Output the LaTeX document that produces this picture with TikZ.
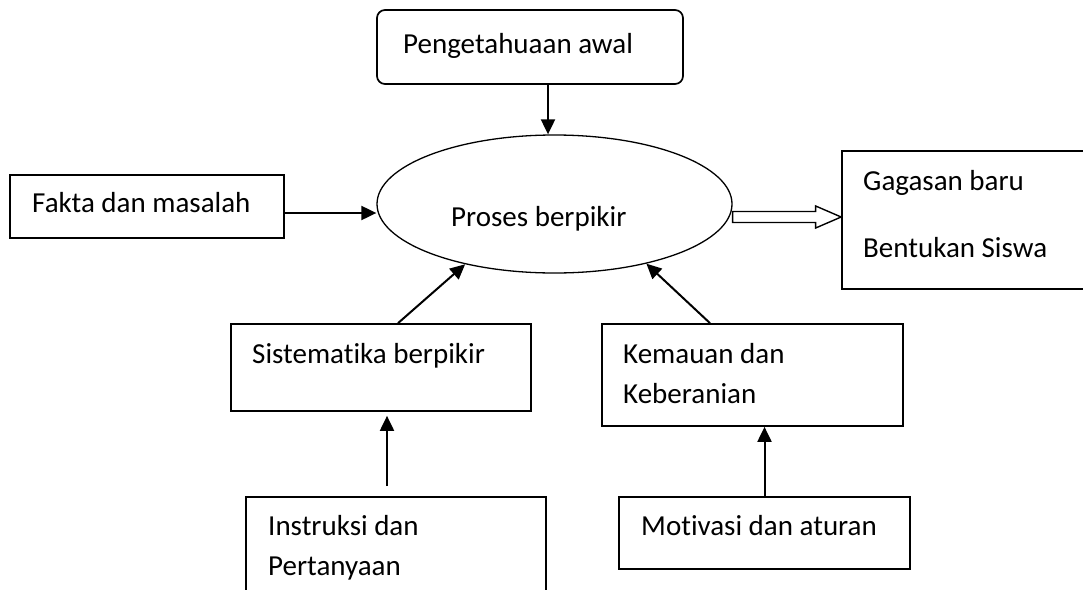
\documentclass[tikz,border=0pt]{standalone}
\usepackage{fontspec}
\setmainfont{Carlito}[Ligatures=NoCommon]
\usetikzlibrary{arrows.meta,positioning,calc,shapes.geometric}

\begin{document}
\begin{tikzpicture}[x=1pt, y=-1pt, >={Triangle[length=15pt,width=14pt]},
    box/.style={draw, line width=1.7pt, inner sep=0pt},
    txt/.style={anchor=base west, inner sep=0pt, align=left, font=\fontsize{29}{40}\selectfont},
    arr/.style={->, line width=2pt}]
  \useasboundingbox (0,0) rectangle (1083,589);

  % Centre
  \node[box, ellipse, line width=1.3pt, minimum width=355pt, minimum height=138pt] (proc) at (554.5,204) {};
  \node[txt] (proclbl) at (451,226) {Proses berpikir};

  % Boxes round it
  \node[box, rounded corners=8pt, minimum width=306pt, minimum height=74pt] (pa) at (530,47) {};
  \node[txt] (palbl) at (403,53) {Pengetahuaan awal};

  \node[box, minimum width=274pt, minimum height=63pt] (fakta) at (147,206.5) {};
  \node[txt] (faktalbl) at (32,212) {Fakta dan masalah};

  \node[box, minimum width=258pt, minimum height=138pt] (gagasan) at (971,220) {};
  \node[txt] (gagasanlbl) at (863,257) {Gagasan baru\\[27pt]Bentukan Siswa};

  \node[box, minimum width=300pt, minimum height=87pt] (sist) at (381,367.5) {};
  \node[txt] (sistlbl) at (252,363) {Sistematika berpikir};

  \node[box, minimum width=301pt, minimum height=102pt] (kem) at (752.5,375) {};
  \node[txt] (kemlbl) at (623,403) {Kemauan dan\\Keberanian};

  \node[box, minimum width=300pt, minimum height=123pt] (instr) at (396,558.5) {};
  \node[txt] (instrlbl) at (268,575) {Instruksi dan\\Pertanyaan};

  \node[box, minimum width=291pt, minimum height=72pt] (motiv) at (764.5,533) {};
  \node[txt] (motivlbl) at (641,535) {Motivasi dan aturan};

  % Arrows
  \draw[arr] ([xshift=18pt]pa.south) -- ([xshift=-6.5pt]proc.north);
  \draw[arr] ([yshift=-6.5pt]fakta.east) -- ([yshift=-6.5pt]fakta.east -| proc.west);
  \draw[arr] ([xshift=17pt]sist.north) -- (proc.214);
  \draw[arr] ([xshift=-42.5pt]kem.north) -- (proc.327);
  \draw[arr, shorten <=10pt, shorten >=4pt] ([xshift=-9pt]instr.north) -- ([xshift=-9pt]instr.north |- sist.south);
  \draw[arr] (motiv.north) -- (motiv.north |- kem.south);

  % Hollow arrow to the result
  \coordinate (dbl) at (proc.east |- 0,217);
  \draw[line width=1.4pt, fill=white] ($(dbl)+(0,-5.5)$) -- ++(83,0) -- ++(0,-5.5) -- (gagasan.west |- dbl)
    -- ($(dbl)+(83,11)$) -- ++(0,-5.5) -- ++(-83,0) -- cycle;
\end{tikzpicture}
\end{document}
